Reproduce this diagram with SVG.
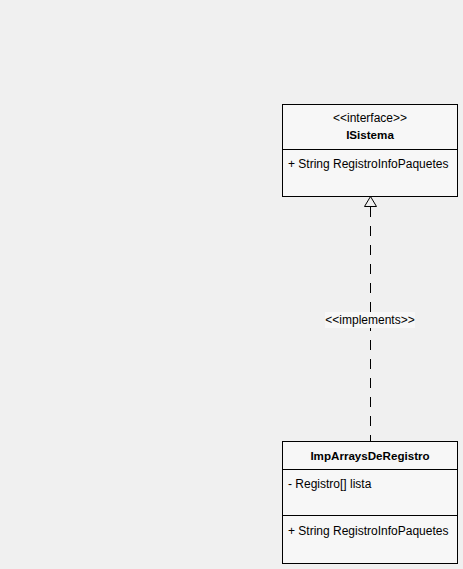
<svg xmlns="http://www.w3.org/2000/svg" width="463" height="569" viewBox="0 0 463 569">
<style>
.box{fill:#f7f7f7;stroke:#000;stroke-width:1}
.t{font-family:"Liberation Sans",Arial,sans-serif;font-size:12px;fill:#000}
.b{font-weight:bold;font-size:11.6px}
.c{text-anchor:middle}
</style>
<rect width="463" height="569" fill="#f0f0f0"/>
<g id="connectors">
<line x1="370.5" y1="207" x2="370.5" y2="441" stroke="#000" stroke-dasharray="10,9"/>
<polygon points="370.5,196.5 364.5,206.5 376.5,206.5" fill="#f0f0f0" stroke="#000"/>
<rect x="325" y="312" width="90" height="16" fill="#f7f7f7"/>
<text class="t c" x="370" y="324">&lt;&lt;implements&gt;&gt;</text>
</g>
<g id="ISistema">
<rect class="box" x="282.5" y="104.5" width="175" height="92"/>
<line x1="282.5" y1="149.5" x2="457.5" y2="149.5" stroke="#000"/>
<text class="t c" x="370" y="122">&lt;&lt;interface&gt;&gt;</text>
<text class="t b c" x="370" y="139">ISistema</text>
<text class="t" x="288" y="168">+ String RegistroInfoPaquetes</text>
</g>
<g id="ImpArraysDeRegistro">
<rect class="box" x="282.5" y="441.5" width="175" height="122"/>
<line x1="282.5" y1="469.5" x2="457.5" y2="469.5" stroke="#000"/>
<line x1="282.5" y1="515.5" x2="457.5" y2="515.5" stroke="#000"/>
<text class="t b c" x="370" y="460">ImpArraysDeRegistro</text>
<text class="t" x="288" y="488">- Registro[] lista</text>
<text class="t" x="288" y="535">+ String RegistroInfoPaquetes</text>
</g>
</svg>
